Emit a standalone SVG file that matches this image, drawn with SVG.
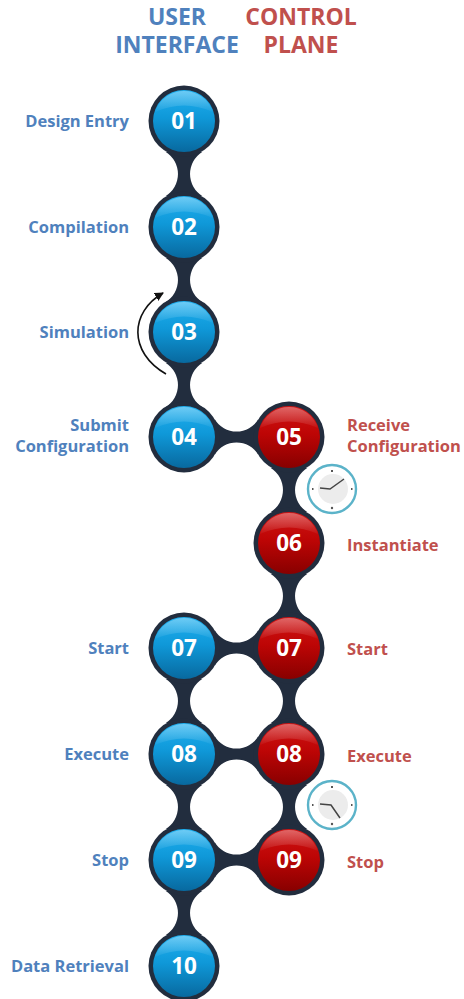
<svg xmlns="http://www.w3.org/2000/svg" width="464" height="999" viewBox="0 0 464 999">
<style>
text{font-family:"Open Sans","Noto Sans","Liberation Sans",sans-serif;font-weight:700}
.h{font-size:23px;text-anchor:middle}
.b{fill:#4f81bd}.r{fill:#c0504d}
.l{font-size:16.500px}
.e{text-anchor:end}
.n{font-size:22.500px;fill:#fff;text-anchor:middle}
.ring{fill:#222d3e}
.neck{fill:#222d3e}
.tick{fill:#555}
.hand{fill:none;stroke:#444;stroke-width:1.500}
.rim{fill:#fff;stroke:#5bb3c9;stroke-width:2.400}
.face{fill:#ececec}
</style>
<defs>
<linearGradient id="bg" x1="0" y1="0" x2="0" y2="1"><stop offset="0" stop-color="#1fb0f0"/><stop offset=".45" stop-color="#0f98d8"/><stop offset="1" stop-color="#08699f"/></linearGradient>
<linearGradient id="rg" x1="0" y1="0" x2="0" y2="1"><stop offset="0" stop-color="#d01414"/><stop offset=".45" stop-color="#bd0505"/><stop offset="1" stop-color="#880000"/></linearGradient>
<linearGradient id="sh" x1="0" y1="0" x2="0" y2="1"><stop offset="0" stop-color="#fff" stop-opacity=".35"/><stop offset="1" stop-color="#fff" stop-opacity=".03"/></linearGradient>
<path id="v" class="neck" d="M-18.500,-22.200A26,26 0 0 1 -18.500,22.200L18.500,22.200A26,26 0 0 1 18.500,-22.200Z"/>
<path id="hn" class="neck" d="M-21.900,-18A25.400,25.400 0 0 0 21.900,-18L21.900,18A25.400,25.400 0 0 0 -21.900,18Z"/>
<g id="bn"><circle class="ring" r="35.500"/><circle r="31" fill="url(#bg)"/><path d="M-29,-9A30.500,30.500 0 0 1 29,-9Q0,-22 -29,-9Z" fill="url(#sh)"/></g>
<g id="rn"><circle class="ring" r="35.500"/><circle r="31" fill="url(#rg)"/><path d="M-29,-9A30.500,30.500 0 0 1 29,-9Q0,-22 -29,-9Z" fill="url(#sh)"/></g>
<marker id="ah" markerWidth="11" markerHeight="10" refX="8" refY="5" orient="auto" markerUnits="userSpaceOnUse"><path d="M0,0.500L9,5L0,9.500Z" fill="#111"/></marker>
<g id="ticks"><rect class="tick" x="-1" y="-19" width="2" height="2"/><rect class="tick" x="19" y="-1" width="1.500" height="2"/><circle class="tick" cx="0" cy="19" r="1.200"/><rect class="tick" x="-20" y="-1" width="1.500" height="2"/></g>
</defs>
<g id="connectors">
<use href="#v" x="184" y="174"/><use href="#v" x="184" y="280"/><use href="#v" x="184" y="385"/>
<use href="#hn" x="236.500" y="437"/>
<use href="#v" x="289" y="490"/><use href="#v" x="289" y="596"/>
<use href="#hn" x="236.500" y="648"/>
<use href="#v" x="184" y="701"/><use href="#v" x="289" y="701"/>
<use href="#hn" x="236.500" y="754"/>
<use href="#v" x="184" y="807"/><use href="#v" x="289" y="807"/>
<use href="#hn" x="236.500" y="860"/>
<use href="#v" x="184" y="913"/>
<path id="loop" d="M166,374C128,352 130,312 163,293" fill="none" stroke="#111" stroke-width="1.600" marker-end="url(#ah)"/>
</g>
<g id="titles">
<text class="h b"><tspan x="177" y="25">USER</tspan><tspan x="177" y="53">INTERFACE</tspan></text>
<text class="h r"><tspan x="301" y="25">CONTROL</tspan><tspan x="301" y="53">PLANE</tspan></text>
</g>
<g id="n01"><use href="#bn" x="184" y="121"/><text class="n" x="184" y="129">01</text><text class="l b e" x="129" y="127">Design Entry</text></g>
<g id="n02"><use href="#bn" x="184" y="227"/><text class="n" x="184" y="235">02</text><text class="l b e" x="129" y="233">Compilation</text></g>
<g id="n03"><use href="#bn" x="184" y="332"/><text class="n" x="184" y="340">03</text><text class="l b e" x="129" y="338">Simulation</text></g>
<g id="n04"><use href="#bn" x="184" y="437"/><text class="n" x="184" y="445">04</text><text class="l b e"><tspan x="129" y="431">Submit</tspan><tspan x="129" y="452">Configuration</tspan></text></g>
<g id="n05"><use href="#rn" x="289" y="437"/><text class="n" x="289" y="445">05</text><text class="l r"><tspan x="347" y="431">Receive</tspan><tspan x="347" y="452">Configuration</tspan></text></g>
<g id="n06"><use href="#rn" x="289" y="543"/><text class="n" x="289" y="551">06</text><text class="l r" x="347" y="551">Instantiate</text></g>
<g id="n07b"><use href="#bn" x="184" y="648"/><text class="n" x="184" y="656">07</text><text class="l b e" x="129" y="654">Start</text></g>
<g id="n07r"><use href="#rn" x="289" y="648"/><text class="n" x="289" y="656">07</text><text class="l r" x="347" y="655">Start</text></g>
<g id="n08b"><use href="#bn" x="184" y="754"/><text class="n" x="184" y="762">08</text><text class="l b e" x="129" y="760">Execute</text></g>
<g id="n08r"><use href="#rn" x="289" y="754"/><text class="n" x="289" y="762">08</text><text class="l r" x="347" y="762">Execute</text></g>
<g id="n09b"><use href="#bn" x="184" y="860"/><text class="n" x="184" y="868">09</text><text class="l b e" x="129" y="866">Stop</text></g>
<g id="n09r"><use href="#rn" x="289" y="860"/><text class="n" x="289" y="868">09</text><text class="l r" x="347" y="868">Stop</text></g>
<g id="n10"><use href="#bn" x="184" y="966"/><text class="n" x="184" y="974">10</text><text class="l b e" x="129" y="972">Data Retrieval</text></g>
<g id="clock1"><circle class="rim" cx="332" cy="489" r="24"/><circle class="face" cx="333" cy="489" r="15"/><use href="#ticks" x="332" y="489"/><path class="hand" d="M320,488L330,489L344,479"/></g>
<g id="clock2"><circle class="rim" cx="332" cy="805" r="24"/><circle class="face" cx="333" cy="805" r="15"/><use href="#ticks" x="332" y="805"/><path class="hand" d="M320,804L331,805L340,818"/></g>
</svg>
